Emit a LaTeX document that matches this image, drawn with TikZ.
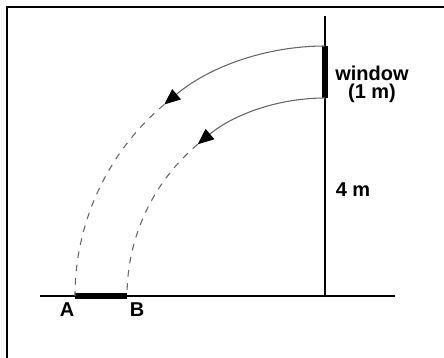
\documentclass[tikz,border=0pt]{standalone}
\usepackage{fontspec}
\newfontfamily\labelfont{Liberation Sans}
\usetikzlibrary{positioning,arrows.meta}

\begin{document}
\begin{tikzpicture}[
        x=0.75pt, y=0.75pt,
        every node/.style={font=\labelfont\bfseries\fontsize{15}{13.5}\selectfont},
        wall/.style={line width=0.8pt},
        bar/.style={line width=3.8pt},
        beam/.style={black!60, line width=0.8pt},
        tip/.style={-{Triangle[length=12pt, width=10pt, black]}},
        tag/.style={align=center, inner sep=0pt}
    ]
    \useasboundingbox (0,0) rectangle (444,358);
    \draw[line width=2pt] (7,0) |- (444,351);

    \coordinate (base) at (325,62);
    \coordinate (wintop) at (325,312);
    \coordinate (winbot) at (325,260);
    \coordinate (pointA) at (75,62);
    \coordinate (pointB) at (127,62);
    \coordinate (groundL) at (40,62);
    \coordinate (groundR) at (395,62);
    \coordinate (walltop) at (325,342);

    \draw[wall] (groundL) -- (groundR);
    \draw[wall] (base) -- (walltop);
    \draw[bar] (wintop) -- (winbot);
    \draw[bar] (pointA) -- (pointB);

    \node[tag] (window) at (372,274) {window\\(1 m)};
    \node[tag] (height) at (353,168) {4 m};
    \node[tag] (labA) at (67,48) {A};
    \node[tag] (labB) at (137,48) {B};

    \draw[beam, tip] (wintop) arc[start angle=90, end angle=130, radius=250] coordinate (outerturn);
    \draw[beam, dash pattern=on 5pt off 5pt] (outerturn) arc[start angle=130, end angle=180, radius=250];
    \draw[beam, tip] (winbot) arc[start angle=90, end angle=130, radius=198] coordinate (innerturn);
    \draw[beam, dash pattern=on 5pt off 5pt] (innerturn) arc[start angle=130, end angle=180, radius=198];
    \end{tikzpicture}
\end{document}
